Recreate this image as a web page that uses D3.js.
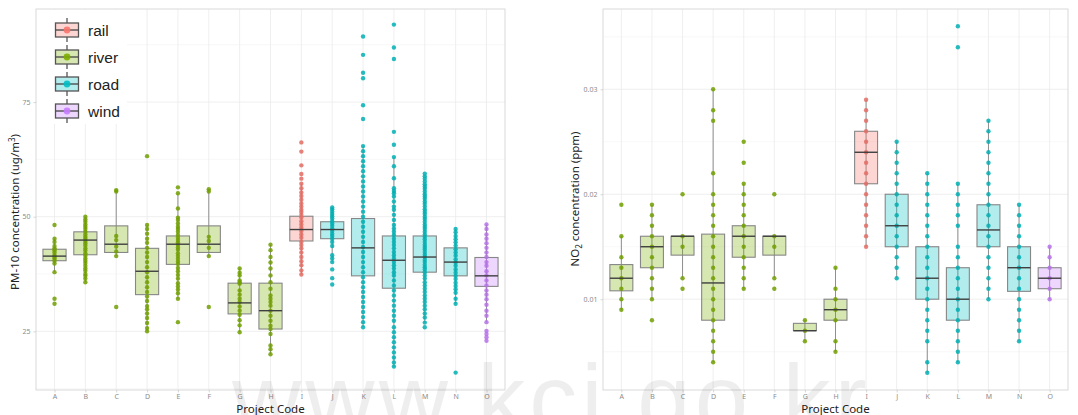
<!DOCTYPE html>
<html>
<head>
<meta charset="utf-8">
<script src="https://cdn.jsdelivr.net/npm/d3@7"></script>
<style>
  body { margin: 0; background: #fff; }
  svg { display: block; font-family: "Noto Sans", "Liberation Sans", sans-serif; }
</style>
</head>
<body>
<svg id="chart" width="1078" height="415"></svg>
<script>
// ---- project codes and the source type of each project ----
const codes = ["A","B","C","D","E","F","G","H","I","J","K","L","M","N","O"];
const siteType = ["river","river","river","river","river","river","river","river",
                  "rail","road","road","road","road","road","wind"];
const typeNames = ["rail","river","road","wind"];
const typeColors = ["#F8766D","#7CAE00","#00BFC4","#C77CFF"];

// ---- PM-10 (ug/m3) observations per project ----
const pm10Points = [
  [48.2,45.2,44.5,43.6,43.1,42.7,42.2,41.6,41.2,40.9,40.4,39.8,37.9,32.1,31.0],
  [50.0,49.4,48.9,48.3,47.8,47.3,46.7,46.1,45.6,45.2,44.7,44.2,43.7,43.1,42.6,42.0,41.5,40.9,40.4,39.9,39.3,38.7,38.2,37.5,37.1,36.5,35.7],
  [55.8,55.5,45.8,44.9,43.5,42.4,41.4,30.3],
  [63.2,48.2,47.3,46.3,45.2,44.3,43.2,42.2,41.2,40.1,39.0,37.9,36.8,35.7,34.6,33.6,32.6,31.6,30.5,29.8,28.9,27.9,26.8,25.7,25.0],
  [56.4,55.1,51.8,49.8,49.3,48.5,47.8,47.3,46.7,46.0,45.4,44.9,44.4,43.9,43.3,42.8,42.0,41.4,40.8,40.2,39.7,38.8,38.1,37.3,36.5,35.5,34.8,34.1,33.3,32.1,27.0],
  [56.0,55.5,45.6,44.7,43.2,41.4,30.3],
  [38.7,37.8,37.2,36.1,35.7,35.4,33.9,33.0,32.1,31.4,30.4,29.5,28.6,27.4,26.3,24.8],
  [43.9,42.7,41.2,40.0,38.7,37.2,35.7,34.3,32.8,32.1,31.4,30.6,29.5,28.4,27.3,26.2,25.5,24.4,21.9,21.1,20.0],
  [66.2,64.2,61.2,59.3,58.3,57.2,56.2,55.3,54.5,53.7,52.9,52.2,51.5,51.0,50.4,49.8,49.0,48.3,47.6,46.9,46.1,45.4,44.5,43.8,43.1,42.2,41.2,40.3,39.4,38.3,37.4],
  [52.0,51.6,51.1,50.6,50.1,49.6,49.0,48.5,48.0,47.4,46.9,46.3,45.8,45.2,44.5,43.6,41.6,40.9,40.1,38.5,36.6,35.2],
  [89.3,85.3,81.4,80.2,74.3,71.3,65.4,64.3,63.2,62.1,61.0,59.9,58.8,57.7,56.6,55.5,54.4,53.3,52.2,51.1,50.0,48.9,47.8,46.7,45.6,44.5,43.4,42.3,41.2,40.1,39.0,37.9,36.8,35.7,34.6,33.6,32.5,31.4,30.3,29.2,28.1,27.0,25.9],
  [91.9,86.9,84.4,68.5,65.7,63.0,61.0,58.4,56.2,55.6,55.1,54.4,53.3,52.2,51.5,50.4,49.3,48.2,47.4,46.7,46.0,45.2,44.5,43.8,43.1,42.3,41.6,40.9,40.1,39.4,38.7,37.9,37.2,36.1,35.0,33.9,32.8,31.7,30.6,29.5,28.4,27.3,25.9,24.8,23.7,22.6,21.5,20.4,19.3,18.2,17.3],
  [59.4,58.8,58.3,57.7,57.1,56.6,56.1,55.5,54.9,54.4,53.9,53.3,52.8,52.2,51.6,51.1,50.6,50.0,49.5,48.9,48.3,47.8,47.3,46.7,46.1,45.6,45.1,44.5,43.9,43.4,42.9,42.3,41.7,41.2,40.6,40.1,39.5,39.0,38.5,37.9,37.2,36.5,35.7,35.0,34.3,33.6,32.8,32.1,31.4,30.6,29.8,28.9,28.0,26.9,25.9],
  [47.3,46.6,45.8,45.1,44.4,43.7,42.9,42.2,41.5,40.7,40.0,39.3,38.5,37.8,37.1,36.4,35.6,34.9,34.2,33.4,32.1,31.0,16.0],
  [48.3,47.3,46.1,45.2,44.2,43.2,42.2,41.2,40.1,39.3,38.1,37.2,36.1,35.0,33.9,33.0,32.0,30.8,29.5,28.4,27.0,25.1,24.4,23.7,22.95]
];
// box statistics for PM-10
const pm10Lower  = [37.9,35.7,41.4,25.0,32.1,41.4,24.8,20.0,37.4,40.1,25.9,17.3,26.9,31.0,27.0];
const pm10Q1     = [40.4,41.7,42.2,33.0,39.6,42.2,28.8,25.5,44.7,45.2,37.1,34.4,37.9,37.1,34.8];
const pm10Median = [41.4,44.9,44.0,38.1,44.0,44.0,31.2,29.5,47.2,47.2,43.2,40.5,41.2,40.1,37.1];
const pm10Q3     = [42.9,46.7,48.0,43.1,45.8,48.0,35.5,35.5,50.1,48.9,49.6,45.8,45.8,43.2,41.1];
const pm10Upper  = [45.2,50.0,55.8,48.2,55.1,56.0,38.7,43.9,57.2,52.0,65.4,63.0,57.1,47.3,48.3];

// ---- NO2 (ppm) observations per project ----
const no2Points = [
  [0.019,0.016,0.014,0.013,0.012,0.011,0.010,0.009],
  [0.019,0.018,0.017,0.016,0.015,0.014,0.013,0.012,0.011,0.010,0.008],
  [0.020,0.016,0.015,0.012,0.011],
  [0.030,0.028,0.027,0.022,0.020,0.019,0.018,0.017,0.016,0.015,0.014,0.013,0.012,0.011,0.010,0.009,0.008,0.007,0.006,0.005,0.004],
  [0.025,0.023,0.021,0.020,0.019,0.018,0.017,0.016,0.015,0.014,0.013,0.012,0.011],
  [0.020,0.016,0.015,0.012,0.011],
  [0.008,0.007,0.006],
  [0.013,0.011,0.010,0.009,0.008,0.006,0.005],
  [0.029,0.028,0.027,0.026,0.025,0.024,0.023,0.022,0.021,0.020,0.019,0.018,0.017,0.016,0.015],
  [0.025,0.024,0.023,0.022,0.021,0.020,0.019,0.018,0.017,0.016,0.015,0.014,0.013,0.012],
  [0.022,0.021,0.020,0.019,0.018,0.017,0.016,0.015,0.014,0.013,0.012,0.011,0.010,0.009,0.008,0.007,0.006,0.004,0.003],
  [0.036,0.034,0.021,0.020,0.019,0.018,0.017,0.015,0.014,0.013,0.012,0.011,0.010,0.009,0.008,0.007,0.006,0.005,0.004],
  [0.027,0.026,0.025,0.024,0.023,0.022,0.021,0.020,0.019,0.018,0.017,0.016,0.015,0.014,0.013,0.012,0.011,0.010],
  [0.019,0.018,0.017,0.016,0.015,0.014,0.013,0.012,0.011,0.010,0.009,0.008,0.007,0.006],
  [0.015,0.014,0.013,0.012,0.011,0.010]
];
// box statistics for NO2
const no2Lower  = [0.009,0.010,0.012,0.004,0.011,0.012,0.006,0.005,0.015,0.012,0.003,0.004,0.010,0.006,0.010];
const no2Q1     = [0.0108,0.013,0.0142,0.008,0.014,0.0142,0.007,0.008,0.021,0.015,0.010,0.008,0.015,0.01075,0.011];
const no2Median = [0.012,0.015,0.016,0.01155,0.016,0.016,0.007,0.009,0.024,0.017,0.012,0.010,0.0166,0.013,0.012];
const no2Q3     = [0.0133,0.016,0.016,0.0162,0.017,0.016,0.0077,0.010,0.026,0.020,0.015,0.013,0.019,0.015,0.013];
const no2Upper  = [0.016,0.019,0.016,0.030,0.021,0.016,0.008,0.013,0.029,0.025,0.022,0.021,0.027,0.019,0.015];

// ---- axis ticks ----
const pm10Ticks = [25, 50, 75];
const pm10MinorTicks = [12.5, 37.5, 62.5, 87.5];
const no2Ticks = [0.01, 0.02, 0.03];
const no2MinorTicks = [0.005, 0.015, 0.025, 0.035];

const svg = d3.select("#chart");
const colorOf = d3.scaleOrdinal(typeNames, typeColors);
const dotColor = t => d3.color(colorOf(t)).darker(0.25).formatHex();

function drawPanel(cfg) {
  const g = svg.append("g");
  const x = d3.scalePoint().domain(codes).range([cfg.left, cfg.right]).padding(0.6);
  const y = d3.scaleLinear().domain(cfg.domain).range([cfg.bottom, cfg.top]);
  const bw = x.step() * 0.75;

  // grid
  const grid = g.append("g");
  grid.selectAll(".minor").data(cfg.minor.filter(v => y(v) > cfg.top && y(v) < cfg.bottom)).join("line")
    .attr("x1", cfg.left).attr("x2", cfg.right)
    .attr("y1", d => y(d)).attr("y2", d => y(d))
    .attr("stroke", "#f4f4f4").attr("stroke-width", 0.6);
  grid.selectAll(".major").data(cfg.ticks).join("line")
    .attr("x1", cfg.left).attr("x2", cfg.right)
    .attr("y1", d => y(d)).attr("y2", d => y(d))
    .attr("stroke", "#ebebeb").attr("stroke-width", 0.8);
  grid.selectAll(".vx").data(codes).join("line")
    .attr("x1", d => x(d)).attr("x2", d => x(d))
    .attr("y1", cfg.top).attr("y2", cfg.bottom)
    .attr("stroke", "#ebebeb").attr("stroke-width", 0.8);

  // boxes
  const boxes = g.append("g").selectAll("g").data(codes).join("g")
    .attr("transform", d => `translate(${x(d)},0)`);
  boxes.append("line")
    .attr("y1", (d, i) => y(cfg.upper[i])).attr("y2", (d, i) => y(cfg.lower[i]))
    .attr("stroke", "#8f8f8f").attr("stroke-width", 1);
  boxes.append("rect")
    .attr("x", -bw / 2).attr("width", bw)
    .attr("y", (d, i) => y(cfg.q3[i]))
    .attr("height", (d, i) => Math.max(1, y(cfg.q1[i]) - y(cfg.q3[i])))
    .attr("fill", (d, i) => colorOf(siteType[i])).attr("fill-opacity", 0.3)
    .attr("stroke", "#878787").attr("stroke-width", 1.1);

  // observations
  boxes.each(function (d, i) {
    d3.select(this).selectAll("circle").data(cfg.points[i]).join("circle")
      .attr("cx", 0).attr("cy", v => y(v)).attr("r", 2.2)
      .attr("fill", dotColor(siteType[i])).attr("fill-opacity", 0.85);
  });

  // medians
  boxes.append("line")
    .attr("x1", -bw / 2).attr("x2", bw / 2)
    .attr("y1", (d, i) => y(cfg.median[i])).attr("y2", (d, i) => y(cfg.median[i]))
    .attr("stroke", "#3f3f3f").attr("stroke-width", 1.4);

  // panel border
  g.append("rect")
    .attr("x", cfg.left).attr("y", cfg.top)
    .attr("width", cfg.right - cfg.left).attr("height", cfg.bottom - cfg.top)
    .attr("fill", "none").attr("stroke", "#d9d9d9").attr("stroke-width", 1);

  // axes
  const yAxis = g.append("g").attr("transform", `translate(${cfg.left},0)`)
    .call(d3.axisLeft(y).tickValues(cfg.ticks).tickSize(2.5).tickFormat(cfg.fmt));
  const xAxis = g.append("g").attr("transform", `translate(0,${cfg.bottom})`)
    .call(d3.axisBottom(x).tickSize(2.5).tickPadding(2));
  [yAxis, xAxis].forEach(a => {
    a.select(".domain").remove();
    a.selectAll(".tick line").attr("stroke", "#bdbdbd").attr("stroke-width", 0.6);
    a.selectAll(".tick text").attr("fill", "#8c8c8c").attr("font-size", 7)
      .attr("font-family", "'Noto Sans', sans-serif");
  });

  // titles
  g.append("text")
    .attr("x", (cfg.left + cfg.right) / 2).attr("y", 413)
    .attr("text-anchor", "middle").attr("font-size", 11.5).attr("fill", "#222")
    .text("Project Code");
  const yt = g.append("text")
    .attr("transform", `translate(${cfg.titleX},${cfg.titleY}) rotate(-90)`)
    .attr("text-anchor", "middle").attr("font-size", 11.5).attr("fill", "#222");
  cfg.title(yt);
  return { x, y };
}

drawPanel({
  left: 36, right: 505, top: 9, bottom: 390,
  domain: [12.2, 95.3], ticks: pm10Ticks, minor: pm10MinorTicks, fmt: d3.format("d"),
  points: pm10Points, lower: pm10Lower, q1: pm10Q1, median: pm10Median, q3: pm10Q3, upper: pm10Upper,
  titleX: 19, titleY: 212,
  title: t => {
    t.append("tspan").text("PM-10 concentration (ug/m");
    t.append("tspan").attr("font-size", 8).attr("dy", -4).text("3");
    t.append("tspan").attr("dy", 4).text(")");
  }
});

drawPanel({
  left: 603, right: 1068, top: 9, bottom: 390,
  domain: [0.00135, 0.03765], ticks: no2Ticks, minor: no2MinorTicks, fmt: d3.format(".2f"),
  points: no2Points, lower: no2Lower, q1: no2Q1, median: no2Median, q3: no2Q3, upper: no2Upper,
  titleX: 579, titleY: 199,
  title: t => {
    t.append("tspan").text("NO");
    t.append("tspan").attr("font-size", 8).attr("dy", 3).text("2");
    t.append("tspan").attr("dy", -3).text(" concentration (ppm)");
  }
});

// legend (inside the PM-10 panel)
const legend = svg.append("g");
legend.append("rect").attr("x", 37).attr("y", 10).attr("width", 90).attr("height", 114).attr("fill", "#fff");
const rows = legend.selectAll("g.key").data(typeNames).join("g")
  .attr("transform", (d, i) => `translate(67,${30 + i * 27})`);
rows.append("line").attr("y1", -12).attr("y2", 12).attr("stroke", "#555").attr("stroke-width", 1.3);
rows.append("rect").attr("x", -11.5).attr("y", -7).attr("width", 23).attr("height", 14)
  .attr("fill", "#fff");
rows.append("rect").attr("x", -11.5).attr("y", -7).attr("width", 23).attr("height", 14)
  .attr("fill", d => colorOf(d)).attr("fill-opacity", 0.3)
  .attr("stroke", "#555").attr("stroke-width", 1.3);
rows.append("line").attr("x1", -11.5).attr("x2", 11.5).attr("stroke", "#444").attr("stroke-width", 1.3);
rows.append("circle").attr("r", 3.4).attr("fill", d => colorOf(d)).attr("fill-opacity", 0.9);
rows.append("text").attr("x", 21).attr("y", 5.5)
  .attr("font-family", "'Liberation Sans', Arial, sans-serif")
  .attr("font-size", 15.5).attr("fill", "#222").text(d => d);

// site watermark
svg.append("text")
  .attr("x", 232).attr("y", 432)
  .attr("font-family", "'Liberation Sans', Arial, sans-serif")
  .attr("font-size", 96).attr("letter-spacing", 4)
  .attr("fill", "#000").attr("fill-opacity", 0.065)
  .style("pointer-events", "none")
  .text("www.kci.go.kr");
</script>
</body>
</html>
